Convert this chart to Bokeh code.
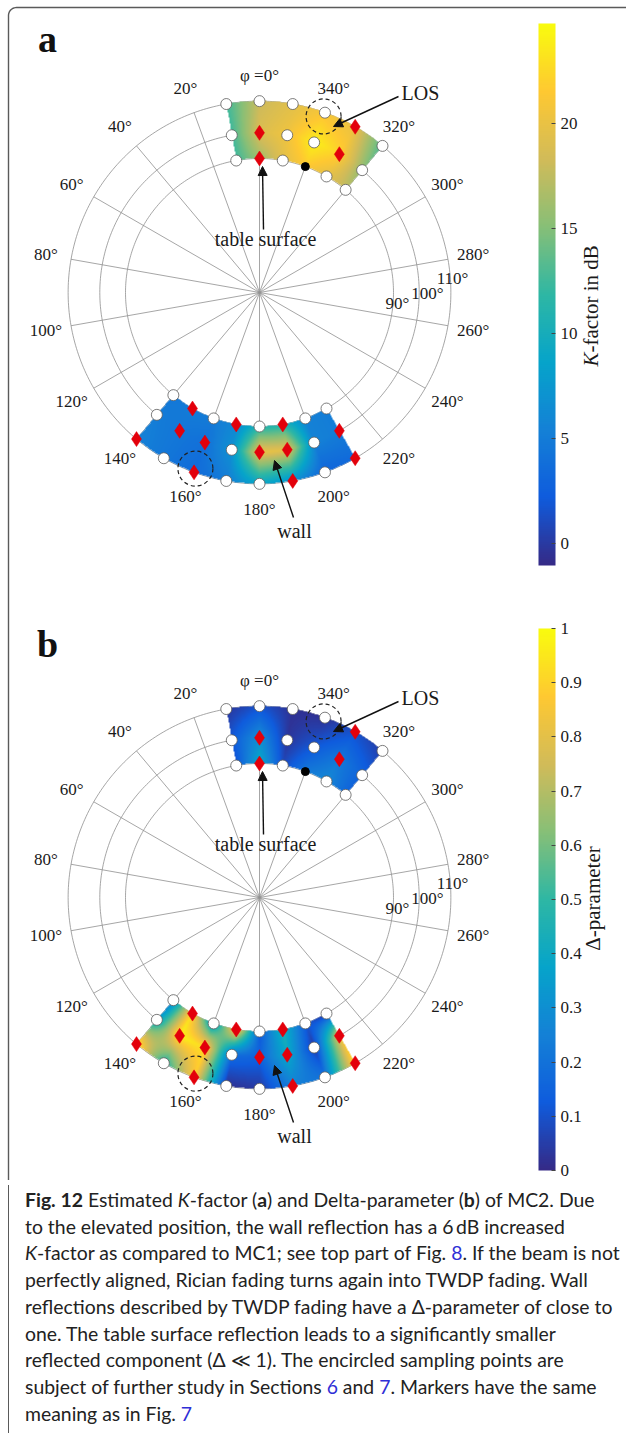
import numpy as np
from bokeh.plotting import figure
from bokeh.models import (ColorBar, LinearColorMapper, FixedTicker, Arrow, NormalHead,
                          Div, Range1d)
from bokeh.layouts import column
from bokeh.embed import file_html
from bokeh.resources import INLINE
from bokeh.core.properties import value

# ------------------------------------------------------------------ data
theta_rows = [90, 100, 110]                      # elevation of the sampling rows (deg)
phi_top = [10, 0, 350, 340, 330, 320]            # azimuth columns, upper region (deg)
phi_bot = [140, 150, 160, 170, 180, 190, 200, 210]  # azimuth columns, lower region

# K-factor in dB (panel a)
k_top_90 = [12.5, 16.0, 19.5, 21.5, 19.5, 17.5]
k_top_100 = [12.5, 19.0, 20.5, 24.0, 22.0, 15.5]
k_top_110 = [12.5, 18.0, 19.5, 21.0, 20.0, 13.0]
k_bot_90 = [4.5, 5.0, 5.0, 6.0, 11.0, 11.0, 5.5, 5.0]
k_bot_100 = [5.0, 4.5, 4.0, 7.0, 20.0, 19.5, 5.5, 5.0]
k_bot_110 = [5.5, 4.5, 3.5, 5.0, 9.0, 7.0, 3.0, 3.5]

# Delta-parameter (panel b)
d_top_90 = [0.10, 0.40, 0.08, 0.22, 0.28, 0.15]
d_top_100 = [0.12, 0.30, 0.03, 0.12, 0.22, 0.15]
d_top_110 = [0.03, 0.10, 0.02, 0.02, 0.10, 0.05]
d_bot_90 = [0.25, 0.92, 0.30, 0.92, 0.12, 0.45, 0.12, 0.03]
d_bot_100 = [0.35, 0.97, 0.92, 0.18, 0.15, 0.40, 0.04, 0.82]
d_bot_110 = [0.97, 0.45, 0.88, 0.02, 0.04, 0.25, 0.20, 0.92]

# marker kinds at each sampling point: o = white circle, d = red diamond, k = black dot
mk_top_90 = ["o", "d", "o", "k", "o", "o"]
mk_top_100 = ["o", "d", "o", "o", "d", "o"]
mk_top_110 = ["o", "o", "o", "o", "d", "o"]
mk_bot_90 = ["o", "d", "o", "d", "o", "d", "o", "o"]
mk_bot_100 = ["o", "d", "d", "o", "d", "d", "o", "d"]
mk_bot_110 = ["d", "o", "d", "o", "o", "d", "o", "d"]

encircled = [(340, 110), (160, 110)]             # (phi, theta) of encircled points

phi_ticks = list(range(0, 360, 20))
phi_tick_labels = ["φ =0°"] + [f"{a}°" for a in phi_ticks[1:]]
theta_ticks = [90, 100, 110]
theta_tick_labels = ["90°", "100°", "110°"]

k_ticks = [0, 5, 10, 15, 20]
d_ticks = [0, 0.1, 0.2, 0.3, 0.4, 0.5, 0.6, 0.7, 0.8, 0.9, 1]
k_range = (-1.05, 24.75)
d_range = (0.0, 1.0)

# ------------------------------------------------------------------ style / layout
W, H = 626, 1180
R0 = 134.0                       # pixel radius of theta = 90 deg (stereographic)
SERIF = "Liberation Serif"
TXT = "#1a1a1a"
GRID = "#8f8f8f"

_anchors = ['#352a87', '#0f5cdd', '#1481d6', '#06a4ca', '#2eb7a4',
            '#87bf77', '#d1bb59', '#fec832', '#f9fb0e']


def _hex2rgb(h):
    return np.array([int(h[i:i + 2], 16) for i in (1, 3, 5)], float)


_arr = np.array([_hex2rgb(c) for c in _anchors])
_t = np.linspace(0, 1, len(_anchors))
PARULA = []
for s in np.linspace(0, 1, 256):
    rgb = [np.interp(s, _t, _arr[:, k]) for k in range(3)]
    PARULA.append("#%02x%02x%02x" % tuple(int(round(v)) for v in rgb))


def rproj(theta):
    return R0 * np.tan(np.radians(np.asarray(theta, float)) / 2.0)


def polar_xy(cx, cy, phi, r):
    ph = np.radians(np.asarray(phi, float))
    return cx - r * np.sin(ph), cy + r * np.cos(ph)


def P(px, py):
    return px, H - py


p = figure(width=W, height=H, x_range=Range1d(0, W), y_range=Range1d(0, H),
           output_backend="svg", toolbar_location=None,
           x_axis_type=None, y_axis_type=None, min_border=0,
           outline_line_color=None, background_fill_color="white",
           border_fill_color="white")
p.grid.visible = False

# outer frame (top + left edge of the figure box)
arc = np.linspace(np.pi / 2, np.pi, 12)
fx = [W + 2, 16] + list(16 + 8 * np.cos(arc)) + [8, 8]
fy = [H - 7, H - 7] + list(H - 15 + 8 * np.sin(arc)) + [H - 15, -2]
p.line(fx, fy, line_color="#5a5a5a", line_width=1.4)


def draw_field(phis, rows, mapper, cx, cy):
    p0 = phis[0]
    pc = np.array([p0 + ((ph - p0 + 180) % 360) - 180 for ph in phis], float)
    V = np.array(rows, float)
    order = np.argsort(pc)
    pc = pc[order]
    V = V[:, order]
    th = np.array(theta_rows, float)
    pp = np.linspace(pc[0], pc[-1], 300)
    bx, by = [], []
    for t in (th[0], th[-1]):
        x, y = polar_xy(cx, cy, pp, rproj(t))
        bx += list(x)
        by += list(y)
    x0 = np.floor(min(bx)) - 1
    x1 = np.ceil(max(bx)) + 1
    y0 = np.floor(min(by)) - 1
    y1 = np.ceil(max(by)) + 1
    w = int(x1 - x0)
    h = int(y1 - y0)
    S = 2
    xs = x0 + (np.arange(w * S) + 0.5) / S
    ys = y0 + (np.arange(h * S) + 0.5) / S
    X, Y = np.meshgrid(xs, ys)
    dx = X - cx
    dy = Y - cy
    r = np.hypot(dx, dy)
    ph = np.degrees(np.arctan2(-dx, dy))
    phc = p0 + ((ph - p0 + 180) % 360) - 180
    tt = 2 * np.degrees(np.arctan(r / R0))
    inside = (phc >= pc[0]) & (phc <= pc[-1]) & (tt >= th[0]) & (tt <= th[-1])
    fi = np.interp(phc, pc, np.arange(len(pc)))
    ti = np.interp(tt, th, np.arange(len(th)))
    i0 = np.clip(np.floor(fi).astype(int), 0, len(pc) - 2)
    fa = fi - i0
    j0 = np.clip(np.floor(ti).astype(int), 0, len(th) - 2)
    ta = ti - j0
    val = (V[j0, i0] * (1 - fa) * (1 - ta) + V[j0, i0 + 1] * fa * (1 - ta)
           + V[j0 + 1, i0] * (1 - fa) * ta + V[j0 + 1, i0 + 1] * fa * ta)
    val = np.where(inside, val, np.nan)
    p.image(image=[val], x=x0, y=y0, dw=w, dh=h, color_mapper=mapper)


def draw_markers(phis, mk_rows, cx, cy):
    groups = {"o": ([], []), "d": ([], []), "k": ([], [])}
    for t, mks in zip(theta_rows, mk_rows):
        xs, ys = polar_xy(cx, cy, phis, rproj(t))
        for x, y, m in zip(xs, ys, mks):
            groups[m][0].append(x)
            groups[m][1].append(y)
    p.scatter(groups["o"][0], groups["o"][1], marker="circle", size=11,
              fill_color="white", line_color="#5c5c5c", line_width=0.8)
    p.scatter(groups["d"][0], groups["d"][1], marker="diamond", size=15,
              fill_color="#e3000b", line_color="#e3000b", line_width=0.5)
    p.scatter(groups["k"][0], groups["k"][1], marker="circle", size=8,
              fill_color="black", line_color="black")


def panel(off, top_rows, bot_rows, mapper, letter, ticks, cb_title):
    cx, cy = P(259, 292 + off)
    # grid
    ring_phi = np.linspace(0, 360, 361)
    for t in theta_ticks:
        x, y = polar_xy(cx, cy, ring_phi, rproj(t))
        p.line(x, y, line_color=GRID, line_width=0.8)
    rmax = float(rproj(theta_ticks[-1]))
    ex, ey = polar_xy(cx, cy, phi_ticks, rmax)
    p.segment(x0=[cx] * len(ex), y0=[cy] * len(ey), x1=ex, y1=ey,
              line_color=GRID, line_width=0.8)
    # fields
    draw_field(phi_top, top_rows, mapper, cx, cy)
    draw_field(phi_bot, bot_rows, mapper, cx, cy)
    # markers
    draw_markers(phi_top, [mk_top_90, mk_top_100, mk_top_110], cx, cy)
    draw_markers(phi_bot, [mk_bot_90, mk_bot_100, mk_bot_110], cx, cy)
    # encircled sampling points
    for ph, t in encircled:
        x, y = polar_xy(cx, cy, [ph], rproj(t) - 4)
        p.scatter(x, y, marker="circle", size=35, fill_color=None,
                  line_color="#222222", line_width=1.2, line_dash="4 3")
    # angle labels
    lx, ly = polar_xy(cx, cy, phi_ticks, 217.0)
    p.text(lx, ly, text=phi_tick_labels, text_align="center", text_baseline="middle",
           text_font=value(SERIF), text_font_size="17px", text_color=TXT)
    # radial labels
    rpos = [(138, -11), (168, -1), (193, 14)]
    p.text([cx + a for a, b in rpos], [cy + b for a, b in rpos], text=theta_tick_labels,
           text_align="center", text_baseline="middle",
           text_font=value(SERIF), text_font_size="17px", text_color=TXT)
    # annotations
    notes = [("LOS", 420, 92, (398, 96), (333, 126)),
             ("table surface", 265, 238, (263, 229), (262, 166)),
             ("wall", 294, 530, (293, 517), (274, 460))]
    for txt, tx, ty, a0, a1 in notes:
        x, y = P(tx, ty + off)
        p.text([x], [y], text=[txt], text_align="center", text_baseline="middle",
               text_font=value(SERIF), text_font_size="20px", text_color=TXT)
        xs0, ys0 = P(a0[0], a0[1] + off)
        xs1, ys1 = P(a1[0], a1[1] + off)
        p.add_layout(Arrow(end=NormalHead(size=9, fill_color="#111111", line_color="#111111",
                                          line_width=1),
                           x_start=xs0, y_start=ys0, x_end=xs1, y_end=ys1,
                           line_color="#111111", line_width=1.4))
    # panel letter
    x, y = P(47, 38 + off)
    p.text([x], [y], text=[letter], text_align="center", text_baseline="middle",
           text_font=value(SERIF), text_font_size="38px", text_font_style="bold",
           text_color="#111111")
    # colour bar
    cb = ColorBar(color_mapper=mapper, location=(538, H - (565 + off)), width=17, height=542,
                  padding=0, margin=0, ticker=FixedTicker(ticks=ticks),
                  major_label_text_font=SERIF, major_label_text_font_size="17px",
                  major_label_text_color=TXT,
                  major_tick_in=4, major_tick_out=0, major_tick_line_color="#444444",
                  minor_tick_line_color=None, label_standoff=5,
                  bar_line_color=None, border_line_color=None,
                  background_fill_color=None)
    p.add_layout(cb, "center")
    cb_title(off)


def k_title(off):
    x, y = P(590, 352 + off)
    p.text([x], [y], text=["K"], angle=np.pi / 2, text_align="right", text_baseline="middle",
           text_font=value(SERIF), text_font_size="21px", text_font_style="italic",
           text_color=TXT)
    p.text([x], [y], text=["-factor in dB"], angle=np.pi / 2, text_align="left",
           text_baseline="middle", text_font=value(SERIF), text_font_size="21px",
           text_color=TXT)


def d_title(off):
    x, y = P(592, 293 + off)
    p.text([x], [y], text=["Δ-parameter"], angle=np.pi / 2, text_align="center",
           text_baseline="middle", text_font=value(SERIF), text_font_size="21px",
           text_color=TXT)


map_k = LinearColorMapper(palette=PARULA, low=k_range[0], high=k_range[1],
                          nan_color=(0, 0, 0, 0.0))
map_d = LinearColorMapper(palette=PARULA, low=d_range[0], high=d_range[1],
                          nan_color=(0, 0, 0, 0.0))

panel(0, [k_top_90, k_top_100, k_top_110], [k_bot_90, k_bot_100, k_bot_110],
      map_k, "a", k_ticks, k_title)
panel(605, [d_top_90, d_top_100, d_top_110], [d_bot_90, d_bot_100, d_bot_110],
      map_d, "b", d_ticks, d_title)

BLUE = "#2f2fd6"
caption = (
    '<div style="box-sizing:border-box;margin:0 0 0 3px;border-left:1.4px solid #5a5a5a;'
    'height:253px;width:615px;padding:2px 0 0 16px;font-family:Lato;font-size:19.4px;'
    'line-height:26.7px;color:#222;white-space:nowrap;">'
    '<b>Fig. 12</b> Estimated <i>K</i>-factor (<b>a</b>) and Delta-parameter (<b>b</b>) of MC2. Due<br>'
    'to the elevated position, the wall reflection has a 6&#8201;dB increased<br>'
    '<i>K</i>-factor as compared to MC1; see top part of Fig. '
    f'<span style="color:{BLUE}">8</span>. If the beam is not<br>'
    'perfectly aligned, Rician fading turns again into TWDP fading. Wall<br>'
    'reflections described by TWDP fading have a &Delta;-parameter of close to<br>'
    'one. The table surface reflection leads to a significantly smaller<br>'
    'reflected component (&Delta; &#8810; 1). The encircled sampling points are<br>'
    f'subject of further study in Sections <span style="color:{BLUE}">6</span> and '
    f'<span style="color:{BLUE}">7</span>. Markers have the same<br>'
    f'meaning as in Fig. <span style="color:{BLUE}">7</span>'
    '</div>'
)
div = Div(text=caption, width=W, height=253)

layout = column(p, div, spacing=0)
open("out.html", "w").write(file_html(layout, INLINE))
